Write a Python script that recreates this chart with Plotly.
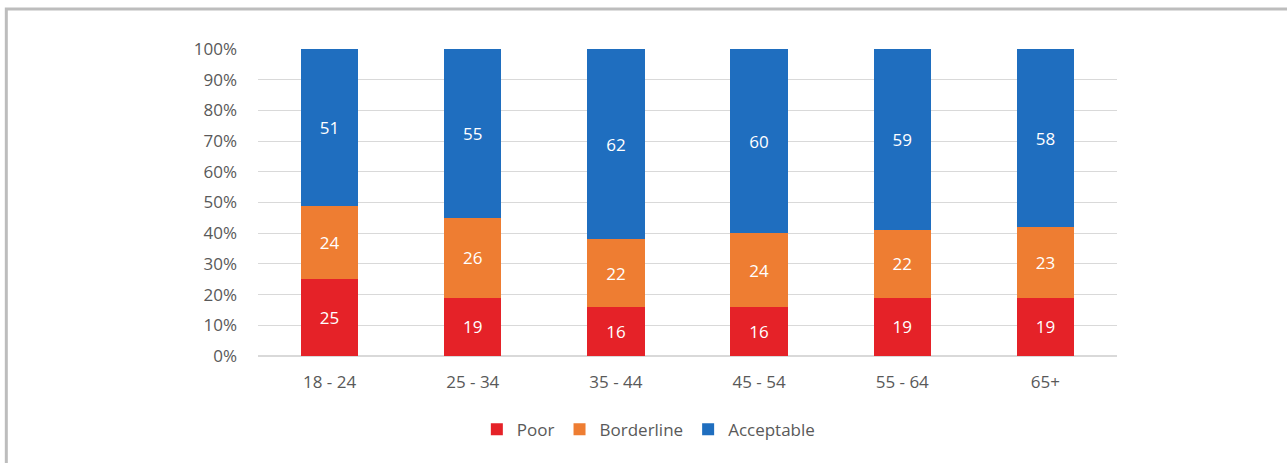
import plotly.graph_objs as go

# age groups and share of each rating (percent)
age_groups = ["18 - 24", "25 - 34", "35 - 44", "45 - 54", "55 - 64", "65+"]
poor = [25, 19, 16, 16, 19, 19]
borderline = [24, 26, 22, 24, 22, 23]
acceptable = [51, 55, 62, 60, 59, 58]
tick_vals = [0, 10, 20, 30, 40, 50, 60, 70, 80, 90, 100]
tick_text = [f"{v}%" for v in tick_vals]

font_family = "Open Sans, Lato, sans-serif"
text_grey = "#595959"


def make_bar(values, name, color):
    return go.Bar(
        x=age_groups,
        y=values,
        name=name,
        marker=dict(color=color, line=dict(width=0)),
        text=values,
        textposition="inside",
        insidetextanchor="middle",
        textfont=dict(color="white", size=17, family=font_family),
        hoverinfo="skip",
    )


fig = go.Figure(data=[
    make_bar(poor, "Poor", "#E52228"),
    make_bar(borderline, "Borderline", "#EE7D32"),
    make_bar(acceptable, "Acceptable", "#1F6EBF"),
])

fig.update_layout(
    barmode="stack",
    bargap=0.6,
    width=1287,
    height=463,
    margin=dict(l=258, r=170, t=49, b=107),
    paper_bgcolor="white",
    plot_bgcolor="white",
    font=dict(family=font_family, color=text_grey, size=17),
    uniformtext=dict(minsize=17, mode="show"),
    legend=dict(
        orientation="h",
        x=0.455,
        xanchor="center",
        y=-0.24,
        yanchor="middle",
        font=dict(size=17, color=text_grey),
        traceorder="normal",
        itemwidth=30,
    ),
    # grey frame round the whole chart
    shapes=[dict(
        type="rect", xref="paper", yref="paper",
        x0=-0.293, x1=1.204, y0=-0.4, y1=1.13,
        line=dict(color="#bdbdbd", width=3),
        layer="below",
    )],
)

fig.update_xaxes(
    showgrid=False,
    showline=False,
    ticks="",
    ticklabelstandoff=14,
    tickfont=dict(size=17, color=text_grey),
)

fig.update_yaxes(
    range=[0, 100],
    tickvals=tick_vals,
    ticktext=tick_text,
    showgrid=True,
    gridcolor="#d9d9d9",
    gridwidth=1,
    zeroline=True,
    zerolinecolor="#d9d9d9",
    showline=False,
    ticks="",
    ticklabelstandoff=20,
    tickfont=dict(size=17, color=text_grey),
)

# drop the default page margin so the chart sits at the window corner
fig.write_html(
    "out.html",
    config={"displayModeBar": False},
    post_script="document.body.style.margin='0';",
)
